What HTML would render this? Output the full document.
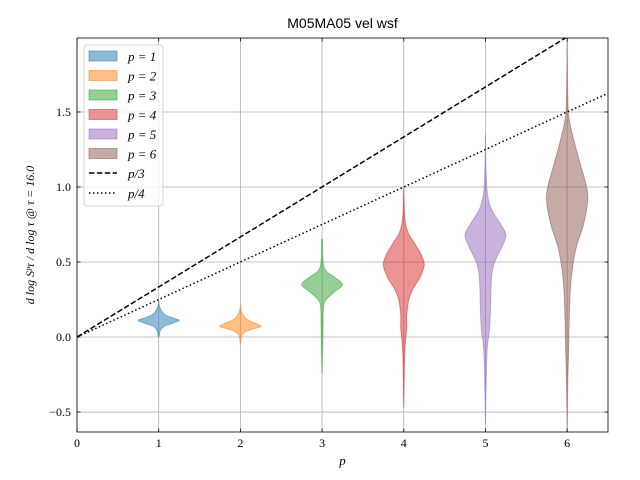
<!DOCTYPE html>
<html><head><meta charset="utf-8"><style>
body{margin:0;background:#fff}
svg{display:block;font-family:"Liberation Serif",serif}
</style></head><body>
<svg id="c" width="640" height="480"></svg>
<script>
const categories=[1,2,3,4,5,6];
const colors=['#1f77b4','#ff7f0e','#2ca02c','#d62728','#9467bd','#8c564b'];
const profY1=[0.25,0.2,0.15,0.12,0.11,0.09,0.07,0.04,0.01,0];
const profW1=[0,0.05,0.3,0.85,1,0.65,0.25,0.07,0.03,0];
const profY2=[0.22,0.17,0.12,0.085,0.07,0.055,0.035,0.01,-0.02,-0.05];
const profW2=[0,0.05,0.3,0.85,1,0.65,0.25,0.07,0.03,0];
const profY3=[0.65,0.5,0.44,0.4,0.35,0.3,0.25,0.2,0.1,0,-0.25];
const profW3=[0.02,0.05,0.2,0.6,1,0.6,0.2,0.07,0.05,0.04,0];
const profY4=[1.0,0.8,0.7,0.62,0.55,0.48,0.4,0.32,0.25,0.15,0.06,0,-0.1,-0.2,-0.47];
const profW4=[0,0.05,0.2,0.55,0.85,1,0.8,0.45,0.25,0.15,0.15,0.1,0.05,0.03,0];
const profY5=[1.35,1.1,0.95,0.85,0.75,0.68,0.6,0.5,0.4,0.2,0.05,-0.05,-0.2,-0.58];
const profW5=[0,0.03,0.1,0.3,0.75,1,0.8,0.45,0.3,0.25,0.2,0.1,0.05,0];
const profY6=[2.0,1.6,1.45,1.3,1.15,1.0,0.9,0.75,0.6,0.45,0.3,0.1,-0.1,-0.3,-0.63];
const profW6=[0,0.03,0.1,0.35,0.65,0.95,1,0.8,0.45,0.25,0.15,0.1,0.07,0.03,0];
const profYs=[profY1,profY2,profY3,profY4,profY5,profY6];
const profWs=[profW1,profW2,profW3,profW4,profW5,profW6];
const xTicks=[0,1,2,3,4,5,6];
const yTicks=[-0.5,0,0.5,1.0,1.5];
const yTickLabels=['\u22120.5','0.0','0.5','1.0','1.5'];

const L=77,R=608,T=38,B=432,X0=0,X1=6.5,Y0=-0.633,Y1=1.993;
const sx=v=>L+(v-X0)/(X1-X0)*(R-L);
const sy=v=>B-(v-Y0)/(Y1-Y0)*(B-T);
const NS='http://www.w3.org/2000/svg';
const svg=document.getElementById('c');
function mk(t,a,p){const e=document.createElementNS(NS,t);for(const k in a)e.setAttribute(k,a[k]);(p||svg).appendChild(e);return e;}
function smooth(pts){
  let d='M'+pts[0][0]+','+pts[0][1];
  for(let i=0;i<pts.length-1;i++){
    const p0=pts[Math.max(0,i-1)],p1=pts[i],p2=pts[i+1],p3=pts[Math.min(pts.length-1,i+2)];
    const c1=[p1[0]+(p2[0]-p0[0])/6,p1[1]+(p2[1]-p0[1])/6];
    const c2=[p2[0]-(p3[0]-p1[0])/6,p2[1]-(p3[1]-p1[1])/6];
    d+=' C'+c1+' '+c2+' '+p2;
  }
  return d;
}

const defs=mk('defs',{});
const cp=mk('clipPath',{id:'clip'},defs);mk('rect',{x:L,y:T,width:R-L,height:B-T},cp);

const grid=mk('g',{});


xTicks.forEach(v=>{mk('line',{x1:sx(v),x2:sx(v),y1:T,y2:B,stroke:'#b0b0b0','stroke-width':0.8},grid);});
yTicks.forEach(v=>{mk('line',{x1:L,x2:R,y1:sy(v),y2:sy(v),stroke:'#b0b0b0','stroke-width':0.8},grid);});

const vg=mk('g',{'clip-path':'url(#clip)'});
categories.forEach((c,i)=>{
  const ys=profYs[i],ws=profWs[i];
  const right=ys.map((y,j)=>[sx(c+0.25*ws[j]),sy(y)]);
  const left=ys.map((y,j)=>[sx(c-0.25*ws[j]),sy(y)]).reverse();
  const d=smooth(right)+' L'+left[0]+' '+smooth(left).slice(1).replace(/^[^C]*/,'')+' Z';
  const p=mk('path',{d:d,fill:colors[i],'fill-opacity':0.5,stroke:colors[i],'stroke-opacity':0.5,'stroke-width':1},vg);
  
  
});

const l3=mk('line',{x1:sx(0),y1:sy(0),x2:sx(6.5),y2:sy(6.5/3),stroke:'#000','stroke-width':1.5,'stroke-dasharray':'5.5,2.4','clip-path':'url(#clip)'});


const l4=mk('line',{x1:sx(0),y1:sy(0),x2:sx(6.5),y2:sy(6.5/4),stroke:'#000','stroke-width':1.5,'stroke-dasharray':'1.5,2.5','clip-path':'url(#clip)'});



mk('rect',{x:L,y:T,width:R-L,height:B-T,fill:'none',stroke:'#000','stroke-width':0.8});
xTicks.forEach(v=>{
  mk('line',{x1:sx(v),x2:sx(v),y1:B,y2:B-3.5,stroke:'#000','stroke-width':0.8});
  mk('line',{x1:sx(v),x2:sx(v),y1:T,y2:T+3.5,stroke:'#000','stroke-width':0.8});
  const t=mk('text',{x:sx(v),y:B+15,'text-anchor':'middle','font-size':12});t.textContent=v;
  
  
});
yTicks.forEach((v,i)=>{
  mk('line',{x1:L,x2:L+3.5,y1:sy(v),y2:sy(v),stroke:'#000','stroke-width':0.8});
  mk('line',{x1:R,x2:R-3.5,y1:sy(v),y2:sy(v),stroke:'#000','stroke-width':0.8});
  const t=mk('text',{x:L-6,y:sy(v)+4,'text-anchor':'end','font-size':12});t.textContent=yTickLabels[i];
  
  
});

const ti=mk('text',{x:(L+R)/2,y:28,'text-anchor':'middle','font-size':14,'font-family':'Liberation Sans, sans-serif'});ti.textContent='M05MA05 vel wsf';


const xl=mk('text',{x:(L+R)/2,y:465,'text-anchor':'middle','font-size':13,'font-style':'italic'});xl.textContent='p';


const yl=mk('text',{x:0,y:0,'text-anchor':'middle','font-size':12,'font-style':'italic',transform:'translate(34,'+((T+B)/2)+') rotate(-90)'});
yl.textContent='d log S\u1D56\u03C4 / d log \u03C4 @ \u03C4 = 16.0';



const lg=mk('g',{});


mk('rect',{x:84,y:45,width:79,height:161,rx:3,fill:'#fff','fill-opacity':0.8,stroke:'#ccc','stroke-width':0.8},lg);
categories.forEach((c,i)=>{
  const y=56+i*19.5;
  mk('rect',{x:89,y:y-5,width:28,height:10,fill:colors[i],'fill-opacity':0.5,stroke:colors[i],'stroke-opacity':0.5},lg);
  const t=mk('text',{x:128,y:y+5,'font-size':13,'font-style':'italic'},lg);t.textContent='p = '+c;
  
  
});
mk('line',{x1:89,x2:117,y1:173,y2:173,stroke:'#000','stroke-width':1.5,'stroke-dasharray':'5.5,2.4'},lg);
let t=mk('text',{x:128,y:178,'font-size':13,'font-style':'italic'},lg);t.textContent='p/3';
mk('line',{x1:89,x2:117,y1:193,y2:193,stroke:'#000','stroke-width':1.5,'stroke-dasharray':'1.5,2.5'},lg);
t=mk('text',{x:128,y:198,'font-size':13,'font-style':'italic'},lg);t.textContent='p/4';
</script>
</body></html>
